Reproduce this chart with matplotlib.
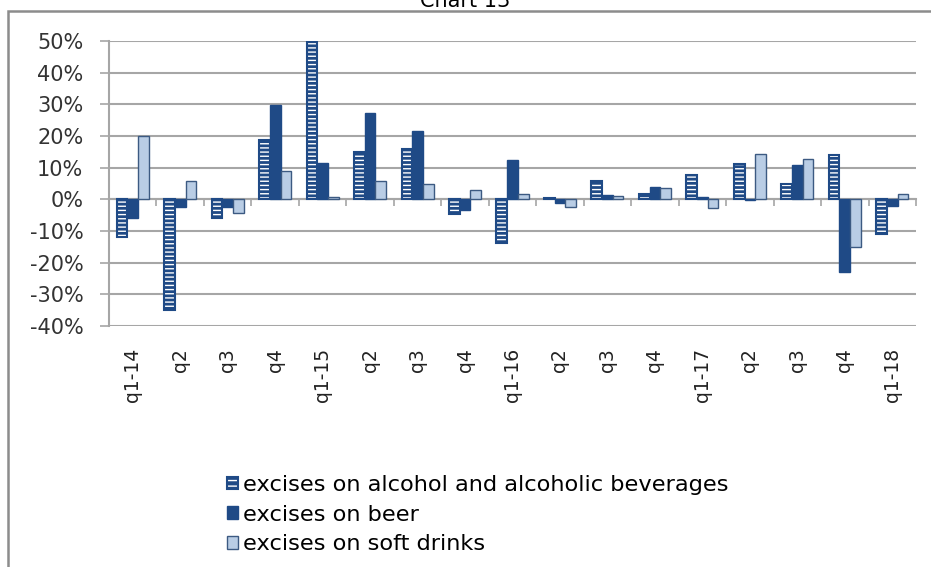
import numpy as np
import matplotlib.pyplot as plt
from matplotlib.patches import Patch, Rectangle
from matplotlib.legend_handler import HandlerTuple

quarters = ['q1-14', 'q2', 'q3', 'q4', 'q1-15', 'q2', 'q3', 'q4', 'q1-16',
            'q2', 'q3', 'q4', 'q1-17', 'q2', 'q3', 'q4', 'q1-18']
alcohol = [-12.0, -35.0, -5.8, 18.7, 49.8, 15.0, 16.0, -4.7, -13.9,
           0.3, 5.9, 1.6, 7.7, 11.1, 4.7, 13.9, -11.0]
beer = [-6.0, -2.3, -2.3, 29.8, 11.6, 27.4, 21.6, -3.4, 12.4,
        -1.3, 1.5, 4.0, 0.8, -0.3, 11.0, -23.0, -2.0]
soft = [20.0, 5.8, -4.4, 9.0, 0.8, 5.9, 5.0, 3.1, 1.7,
        -2.5, 1.1, 3.5, -2.6, 14.3, 12.8, -15.0, 1.6]
yticks = [-40, -30, -20, -10, 0, 10, 20, 30, 40, 50]

navy = '#1f4a86'
light = '#b9cde5'
grey = '#a6a6a6'

plt.rcParams['font.family'] = 'DejaVu Sans'
plt.rcParams['hatch.linewidth'] = 1.0

fig = plt.figure(figsize=(9.31, 5.67), dpi=100)
ax = fig.add_axes([0.1171, 0.4250, 0.9839 - 0.1171, 0.9277 - 0.4250])

x = np.arange(len(quarters))
w = 0.225

# alcohol: navy bars with white horizontal stripes + navy outline
ax.bar(x - w, alcohol, w, color=navy, edgecolor='white', hatch='----', lw=0, zorder=3)
ax.bar(x - w, alcohol, w, facecolor='none', edgecolor=navy, lw=1.5, zorder=4)
ax.bar(x, beer, w, color=navy, edgecolor=navy, lw=1, zorder=3)
ax.bar(x + w, soft, w, color=light, edgecolor='#3c5a82', lw=1, zorder=3)

ax.set_xlim(-0.5, len(quarters) - 0.5)
ax.set_ylim(-40, 50)
ax.set_yticks(yticks, [f'{v}%' for v in yticks], fontsize=15)
ax.yaxis.grid(True, color=grey, lw=1.5)
ax.set_axisbelow(True)
ax.tick_params(axis='y', length=6.5, color=grey, width=1.2, pad=12, labelcolor='#333333')

for s in ['top', 'right']:
    ax.spines[s].set_visible(False)
ax.spines['left'].set_color(grey)
ax.spines['left'].set_linewidth(1.5)
ax.spines['bottom'].set_position(('data', 0))
ax.spines['bottom'].set_color(grey)
ax.spines['bottom'].set_linewidth(1.5)
ax.set_xticks(np.arange(len(quarters) + 1) - 0.5, [''] * (len(quarters) + 1))
ax.tick_params(axis='x', length=5, color=grey, width=1.2)

sec = ax.secondary_xaxis('bottom')
sec.set_xticks(x, quarters, rotation=90, fontsize=13.5, color='#222222')
sec.tick_params(length=0, pad=16)
sec.spines['bottom'].set_visible(False)

h_alc = (Patch(facecolor=navy, edgecolor='white', hatch='---', lw=0),
         Patch(facecolor='none', edgecolor=navy, lw=1.5))
h_beer = Patch(facecolor=navy, edgecolor=navy)
h_soft = Patch(facecolor=light, edgecolor='#3c5a82')
fig.legend([h_alc, h_beer, h_soft],
           ['excises on alcohol and alcoholic beverages', 'excises on beer',
            'excises on soft drinks'],
           handler_map={tuple: HandlerTuple(ndivide=1, pad=0)},
           loc='upper left', bbox_to_anchor=(227 / 931, 1 - 475 / 567),
           frameon=False, prop={'size': 16.2},
           handlelength=0.5, handleheight=0.48, handletextpad=0.2,
           labelspacing=0.43, borderaxespad=0, borderpad=0)

fig.add_artist(Rectangle((8 / 931, -0.1), 1.1, 1.1 - 11 / 567,
                         transform=fig.transFigure, fill=False,
                         edgecolor='#8c8c8c', lw=1.8))
fig.text(0.5, 1 - 7 / 567, 'Chart 13', ha='center', va='baseline', fontsize=15)

fig.savefig('out.png', dpi=100)
